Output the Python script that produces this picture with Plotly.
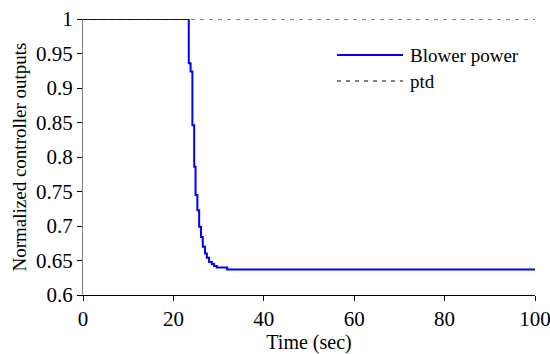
import plotly.graph_objects as go

# Blower power (step trace)
time_bp = [0, 23.4, 23.8, 24.2, 24.6, 24.9, 25.3, 25.7, 26.1, 26.5, 27.0, 27.4, 27.9, 28.5, 29.0, 29.6, 31.9, 100]
blower = [1.0, 0.936, 0.924, 0.846, 0.786, 0.745, 0.723, 0.699, 0.684, 0.670, 0.660, 0.654, 0.648, 0.645, 0.642, 0.640, 0.637, 0.637]

time_ptd = [0, 100]
ptd = [1.0, 1.0]

y_ticks = [0.6, 0.65, 0.7, 0.75, 0.8, 0.85, 0.9, 0.95, 1.0]
y_ticktext = ["0.6", "0.65", "0.7", "0.75", "0.8", "0.85", "0.9", "0.95", "1"]
x_ticks = [0, 20, 40, 60, 80, 100]

FONT = "Liberation Serif, Times New Roman, serif"

fig = go.Figure()
fig.add_trace(go.Scatter(x=time_bp, y=blower, mode="lines", line=dict(color="#0000FF", width=2, shape="hv"),
                         name="Blower power", cliponaxis=False, showlegend=False))
fig.add_trace(go.Scatter(x=time_ptd, y=ptd, mode="lines", line=dict(color="black", width=1, dash="4px,5px"),
                         name="ptd", cliponaxis=False, showlegend=False))

# legend drawn manually to match sample length
fig.add_shape(type="line", xref="paper", yref="paper", x0=(337-83)/452, x1=(403-83)/452,
              y0=(295-55)/276, y1=(295-55)/276, line=dict(color="#0000FF", width=2))
fig.add_shape(type="line", xref="paper", yref="paper", x0=(337-83)/452, x1=(403-83)/452,
              y0=(295-81)/276, y1=(295-81)/276, line=dict(color="black", width=1, dash="4px,5px"))
fig.add_annotation(text="Blower power", xref="paper", yref="paper", x=(408-83)/452, y=(295-55)/276,
                   xanchor="left", yanchor="middle", showarrow=False, font=dict(family=FONT, size=19, color="black"))
fig.add_annotation(text="ptd", xref="paper", yref="paper", x=(408-83)/452, y=(295-81)/276,
                   xanchor="left", yanchor="middle", showarrow=False, font=dict(family=FONT, size=19, color="black"))

fig.update_layout(
    width=550, height=354,
    margin=dict(l=83, r=15, t=19, b=59, autoexpand=False),
    paper_bgcolor="white", plot_bgcolor="white",
    font=dict(family=FONT, size=19, color="black"),
    showlegend=False,
)
fig.update_xaxes(range=[0, 100], tickvals=x_ticks, ticks="outside", ticklen=5, tickcolor="black",
                 showline=True, linecolor="black", linewidth=1, showgrid=False, zeroline=False, automargin=False,
                 ticklabeloverflow="allow",
                 title=dict(text="Time (sec)", font=dict(family=FONT, size=20), standoff=1),
                 tickfont=dict(family=FONT, size=21))
fig.update_yaxes(range=[0.6, 1.0], tickvals=y_ticks, ticktext=y_ticktext, ticks="outside", ticklen=5,
                 tickcolor="black", showline=True, linecolor="#808080", linewidth=1, showgrid=False, zeroline=False,
                 automargin=False, ticklabeloverflow="allow",
                 title=dict(text="Normalized controller outputs", font=dict(family=FONT, size=19), standoff=4),
                 tickfont=dict(family=FONT, size=21))

fig.write_html("out.html")
